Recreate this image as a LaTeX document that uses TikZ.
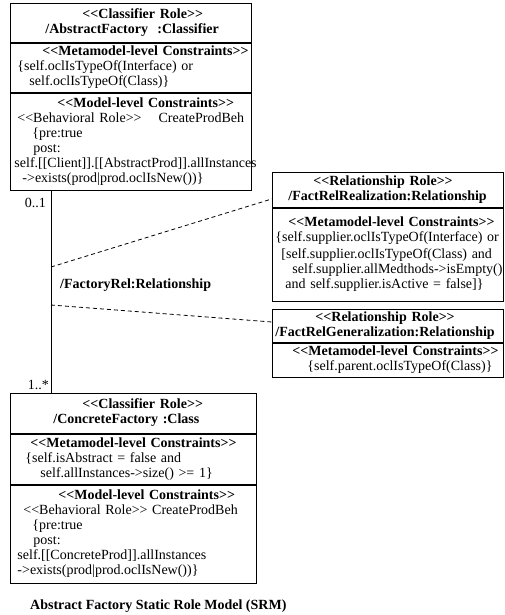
\documentclass[tikz,border=0pt]{standalone}
\usepackage{fontspec}
\setmainfont{Liberation Serif}
\usepackage{tikz}
\usetikzlibrary{positioning}

\newcommand{\stereo}[1]{<\kern0pt<#1>\kern0pt>}
\newcommand{\rowat}[2]{\makebox[0pt][l]{\hspace*{#1}\strut #2}}

\begin{document}
\begin{tikzpicture}[
    x=1pt, y=-1pt,
    every node/.style={font=\fontsize{14}{15}\selectfont},
    compart/.style={rectangle, draw=black, line width=0.9pt, inner sep=0pt, text width=#1, align=left},
    compart/.default=241pt,
    assoc/.style={line width=1pt, color=black},
    roledash/.style={line width=0.8pt, dash pattern=on 4pt off 3pt},
    mult/.style={inner sep=0pt},
    rolelabel/.style={inner sep=0pt, font=\fontsize{14}{15}\selectfont\bfseries}
]
    \useasboundingbox (0,0) rectangle (504,615);

    % Nodes
    \node[compart=241pt, anchor=north west, minimum height=39pt] (absHead) at (10,3)
        {\rowat{72pt}{\bfseries\stereo{Classifier Role}}\\
         \rowat{35pt}{\bfseries /AbstractFactory\ \ :Classifier}};
    \node[compart=241pt, below=0pt of absHead, minimum height=49pt] (absMeta)
        {\rowat{32pt}{\bfseries\stereo{Metamodel-level Constraints}}\\
         \rowat{7pt}{\{self.oclIsTypeOf(Interface) or}\\
         \rowat{19pt}{self.oclIsTypeOf(Class)\}}};
    \node[compart=241pt, below=0pt of absMeta, minimum height=97pt] (absModel)
        {\rowat{47pt}{\bfseries\stereo{Model-level Constraints}}\\
         \rowat{7pt}{\stereo{Behavioral Role}\hspace{17pt}CreateProdBeh}\\
         \rowat{22pt}{\{pre:true}\\
         \rowat{23pt}{post:}\\
         \rowat{4pt}{self.[[Client]].[[AbstractProd]].allInstances}\\
         \rowat{12pt}{->exists(prod|prod.oclIsNew())\}}};

    \node[compart=246pt, anchor=north west, minimum height=40pt] (conHead) at (10,393)
        {\rowat{72pt}{\bfseries\stereo{Classifier Role}}\\
         \rowat{43pt}{\bfseries /ConcreteFactory :Class}};
    \node[compart=246pt, below=0pt of conHead, minimum height=50pt] (conMeta)
        {\rowat{20pt}{\bfseries\stereo{Metamodel-level Constraints}}\\
         \rowat{15pt}{\{self.isAbstract = false and}\\
         \rowat{30pt}{self.allInstances->size() >= 1\}}};
    \node[compart=246pt, below=0pt of conMeta, minimum height=98pt] (conModel)
        {\rowat{48pt}{\bfseries\stereo{Model-level Constraints}}\\
         \rowat{13pt}{\stereo{Behavioral Role} CreateProdBeh}\\
         \rowat{22pt}{\{pre:true}\\
         \rowat{23pt}{post:}\\
         \rowat{7pt}{self.[[ConcreteProd]].allInstances}\\
         \rowat{7pt}{->exists(prod|prod.oclIsNew())\}}};

    \node[compart=231pt, anchor=north west, minimum height=35pt] (realHead) at (272,172)
        {\rowat{41pt}{\bfseries\stereo{Relationship Role}}\\
         \rowat{16pt}{\bfseries /FactRelRealization:Relationship}};
    \node[compart=231pt, below=0pt of realHead, minimum height=93pt] (realMeta)
        {\rowat{16pt}{\bfseries\stereo{Metamodel-level Constraints}}\\
         \rowat{3pt}{\{self.supplier.oclIsTypeOf(Interface) or}\\[2pt]
         \rowat{9pt}{[self.supplier.oclIsTypeOf(Class) and}\\
         \rowat{20pt}{self.supplier.allMedthods->isEmpty()}\\
         \rowat{13pt}{and self.supplier.isActive = false]\}}};

    \node[compart=231pt, anchor=north west, minimum height=33pt] (genHead) at (272,309)
        {\rowat{43pt}{\bfseries\stereo{Relationship Role}}\\
         \rowat{3pt}{\bfseries /FactRelGeneralization:Relationship}};
    \node[compart=231pt, below=0pt of genHead, minimum height=34pt] (genMeta)
        {\rowat{20pt}{\bfseries\stereo{Metamodel-level Constraints}}\\
         \rowat{35pt}{\{self.parent.oclIsTypeOf(Class)\}}};

    % Association and role links
    \coordinate (relTop) at ([xshift=41pt]absModel.south west);
    \coordinate (relBot) at (relTop |- conHead.north);
    \coordinate (realFoot) at (51,267);
    \coordinate (genFoot) at (51,305);

    \draw[assoc] (relTop) -- (relBot);
    \draw[roledash] (realFoot) -- ([yshift=9pt]realHead.south west);
    \draw[roledash] (genFoot) -- ([yshift=-13pt]genHead.north west);

    \node[mult, below left=7pt and 5pt of relTop] (multTop) {0..1};
    \node[mult, above left=3pt and 2pt of relBot] (multBot) {1..*};
    \node[rolelabel, anchor=west] (factRel) at (60,285) {/FactoryRel:Relationship};

    \node[rolelabel, below right=16pt and 20pt of conModel.south west] (caption)
        {Abstract Factory Static Role Model (SRM)};

\end{tikzpicture}
\end{document}
